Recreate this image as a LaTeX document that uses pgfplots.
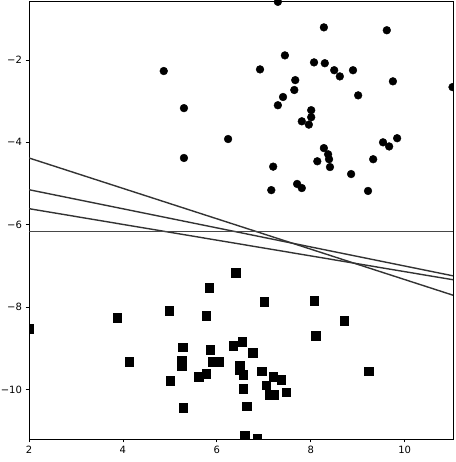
\documentclass[border=0pt]{standalone}
\usepackage{pgfplots}
\pgfplotsset{compat=1.18}
\usepackage{fontspec}
\setmainfont{DejaVu Sans}
\begin{document}
\begin{tikzpicture}
\begin{axis}[
  name=ax,
  scale only axis,
  width=424pt, height=438pt,
  xmin=2, xmax=11.03, ymin=-11.2, ymax=-0.57,
  xtick={2,4,6,8,10},
  ytick={-10,-8,-6,-4,-2},
  yticklabels={−10,−8,−6,−4,−2},
  /pgf/number format/assume math mode=true,
  tick label style={font=\fontsize{10}{12}\selectfont},
  tick align=outside, tick pos=left,
  major tick length=3.5pt,
  axis line style={line width=0.8pt, black},
  major tick style={line width=0.8pt, black},
  clip marker paths=true,
]
% separating lines
\addplot[black!80, line width=1.4pt] coordinates {(2,-4.38) (11.03,-7.71)};
\addplot[black!80, line width=1.4pt] coordinates {(2,-5.15) (11.03,-7.24)};
\addplot[black!80, line width=1.4pt] coordinates {(2,-5.61) (11.03,-7.335)};
\addplot[black!72, line width=1.7pt] coordinates {(2,-6.165) (11.03,-6.165)};
% circles
\addplot[only marks, mark=*, mark size=3.9pt, black] coordinates {
(4.87,-2.27) (5.30,-3.17) (5.30,-4.38) (6.24,-3.92) (7.30,-0.59) (7.45,-1.89)
(6.92,-2.23) (7.67,-2.49) (7.65,-2.73) (7.41,-2.90) (7.30,-3.10) (7.20,-4.59)
(7.16,-5.16) (8.28,-1.21) (9.62,-1.28) (8.07,-2.06) (8.30,-2.08) (8.50,-2.25)
(8.62,-2.40) (8.90,-2.25) (9.75,-2.52) (11.02,-2.66) (9.01,-2.86) (8.01,-3.22)
(8.01,-3.39) (7.81,-3.49) (7.96,-3.57) (9.84,-3.90) (9.54,-4.00) (9.67,-4.10)
(8.28,-4.14) (8.37,-4.29) (8.39,-4.41) (8.14,-4.46) (8.41,-4.60) (9.33,-4.41)
(8.86,-4.77) (9.22,-5.18) (7.71,-5.01) (7.81,-5.11)
};
% squares
\addplot[only marks, mark=square*, mark size=4.3pt, black] coordinates {
(2.0,-8.53) (3.88,-8.26) (4.13,-9.33) (4.99,-8.09) (5.01,-9.79) (5.27,-8.97)
(5.25,-9.30) (5.25,-9.42) (5.28,-10.44) (5.84,-7.53) (5.77,-8.21) (5.86,-9.04)
(5.91,-9.33) (6.05,-9.33) (5.77,-9.62) (5.62,-9.69) (6.40,-7.17) (7.01,-7.87)
(6.35,-8.94) (6.54,-8.84) (6.77,-9.11) (6.49,-9.41) (6.49,-9.52) (6.56,-9.64)
(6.96,-9.55) (7.20,-9.69) (7.05,-9.89) (6.56,-9.98) (6.64,-10.40) (7.12,-10.13)
(7.21,-10.13) (6.60,-11.11) (6.86,-11.18) (7.37,-9.76) (7.48,-10.06) (8.07,-7.85)
(8.71,-8.33) (8.11,-8.70) (9.24,-9.55)
};
\end{axis}
\pgfresetboundingbox
\path[use as bounding box] ([xshift=-29pt,yshift=-23pt]ax.south west) rectangle ([xshift=3pt,yshift=1pt]ax.north east);
\end{tikzpicture}
\end{document}
